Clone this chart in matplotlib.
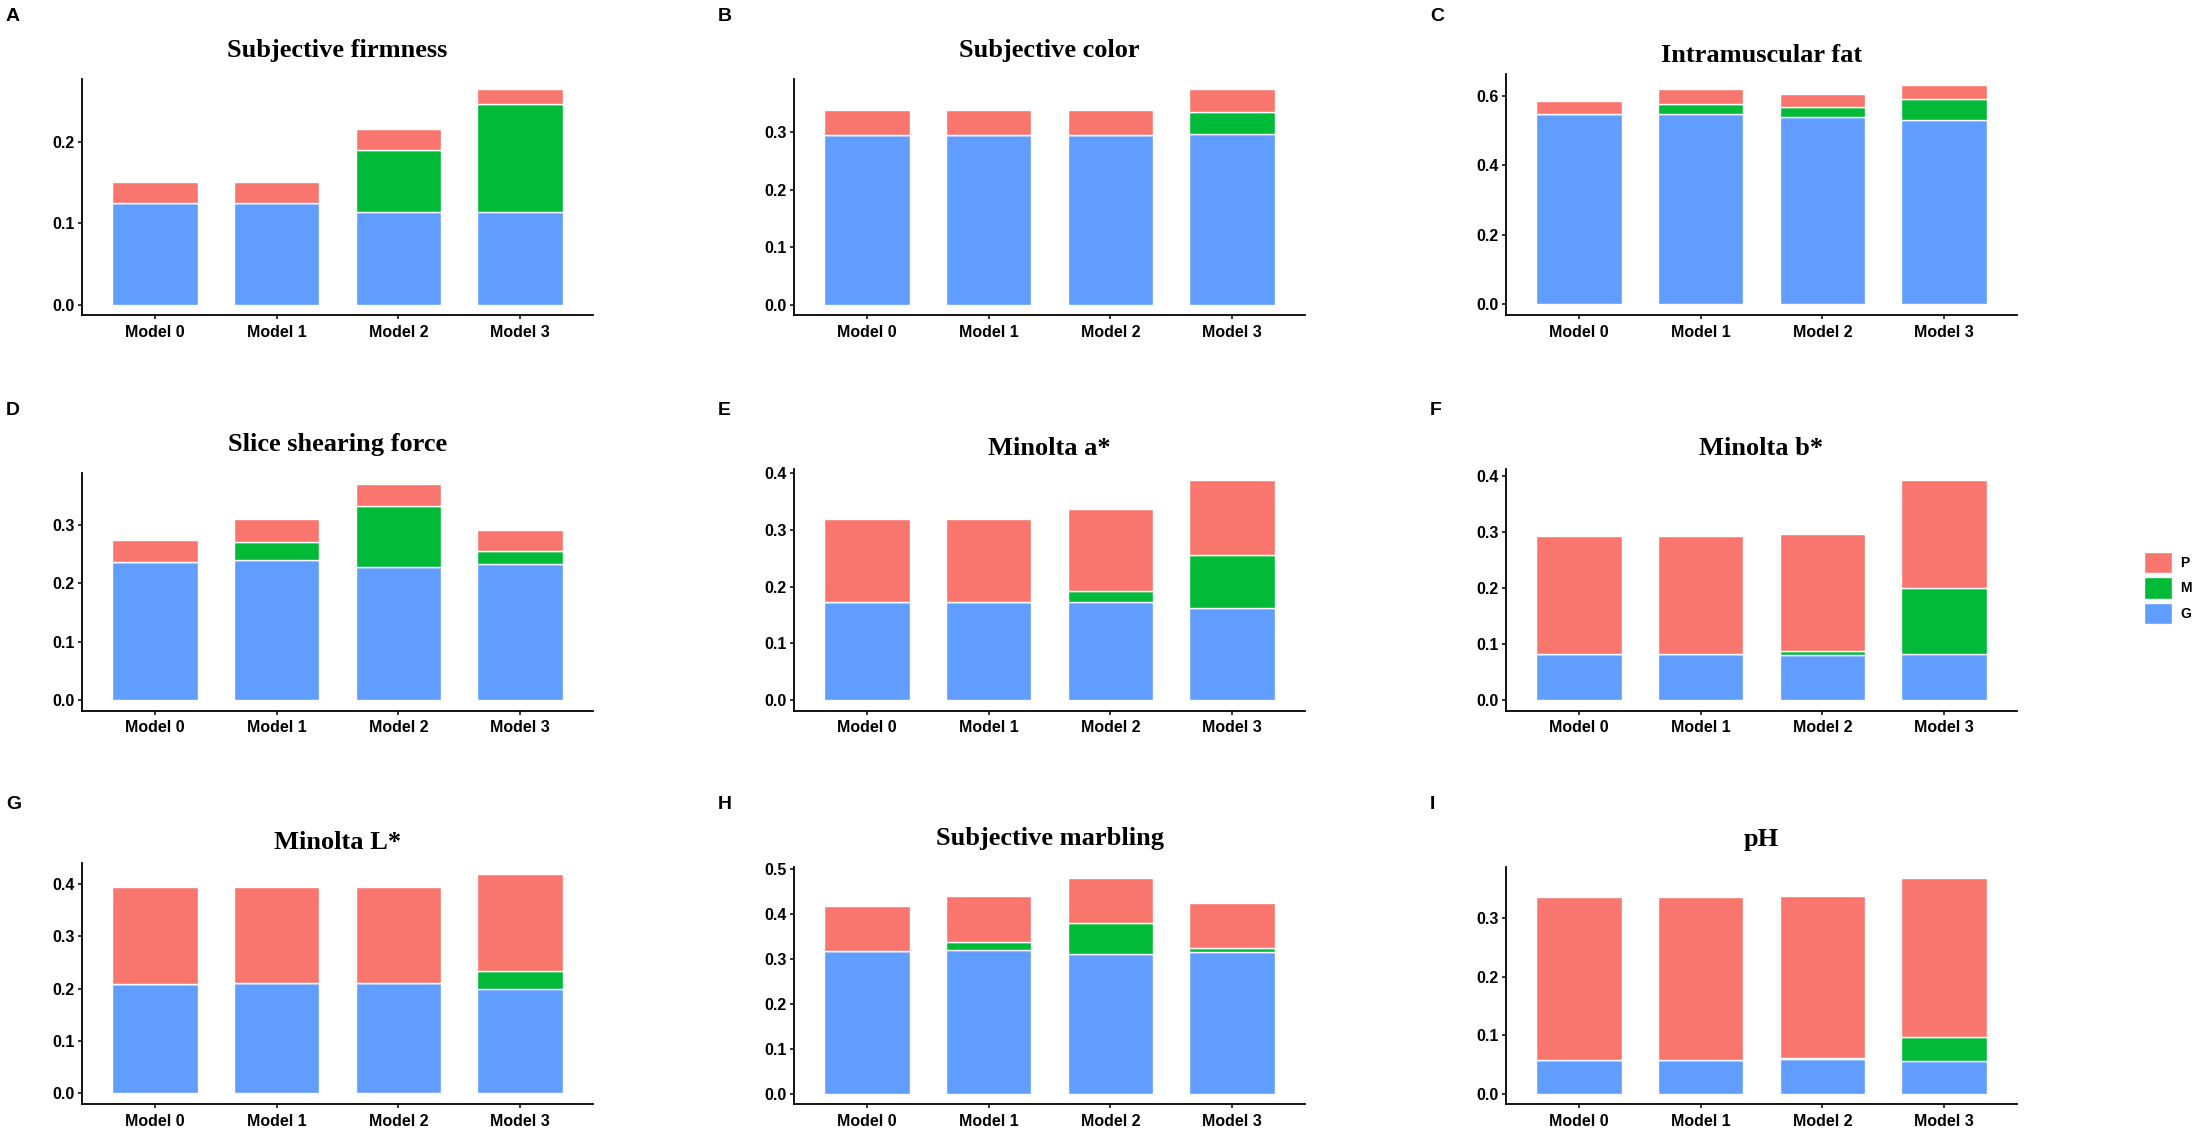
import matplotlib
matplotlib.use("Agg")
import matplotlib.pyplot as plt
from matplotlib.patches import Patch
from matplotlib.ticker import MultipleLocator, FormatStrFormatter

models = ["Model 0", "Model 1", "Model 2", "Model 3"]
letters = ["A", "B", "C", "D", "E", "F", "G", "H", "I"]
titles = ["Subjective firmness", "Subjective color", "Intramuscular fat",
          "Slice shearing force", "Minolta a*", "Minolta b*",
          "Minolta L*", "Subjective marbling", "pH"]

# stacked components per trait: G (bottom), M (middle), P (top)
g_vals = [
    [0.125, 0.125, 0.113, 0.114],
    [0.295, 0.295, 0.295, 0.2965],
    [0.547, 0.547, 0.540, 0.530],
    [0.2356, 0.239, 0.228, 0.2328],
    [0.1735, 0.1735, 0.1735, 0.1617],
    [0.0824, 0.0824, 0.0806, 0.0824],
    [0.2093, 0.210, 0.210, 0.1984],
    [0.318, 0.320, 0.312, 0.3157],
    [0.0578, 0.0578, 0.0584, 0.0561],
]
m_vals = [
    [0.0, 0.0, 0.077, 0.132],
    [0.0, 0.0, 0.0, 0.0395],
    [0.0, 0.031, 0.028, 0.063],
    [0.0, 0.031, 0.1048, 0.0222],
    [0.0, 0.0, 0.0195, 0.0938],
    [0.0, 0.0, 0.0066, 0.1176],
    [0.0, 0.0, 0.0, 0.0357],
    [0.0, 0.0188, 0.0686, 0.0089],
    [0.0, 0.0, 0.0023, 0.0412],
]
p_vals = [
    [0.025, 0.025, 0.026, 0.018],
    [0.0435, 0.0435, 0.0435, 0.039],
    [0.0395, 0.041, 0.037, 0.039],
    [0.0384, 0.040, 0.037, 0.036],
    [0.1465, 0.1465, 0.144, 0.1325],
    [0.2101, 0.2101, 0.2095, 0.1928],
    [0.1843, 0.1843, 0.184, 0.1844],
    [0.1007, 0.1022, 0.100, 0.1008],
    [0.2782, 0.2782, 0.2777, 0.2714],
]

col_p, col_m, col_g = "#F8766D", "#00BA38", "#619CFF"

W, H = 2202, 1132
fig = plt.figure(figsize=(W / 100, H / 100), dpi=100, facecolor="white")

# layout in pixels
lefts = [82, 794, 1506]
ax_w = 511
tops = [78.7, 78.7, 74, 473.3, 469.3, 469.3, 863.3, 867.3, 867.3]
bottoms = [315.3, 710.7, 1104.3]
title_base = [57.3, 57.3, 61.7, 451, 455, 455, 849, 845, 846]
letter_x = [6, 718, 1430]
letter_base = [21, 415, 809]

sans = ["Liberation Sans", "DejaVu Sans"]
serif = ["Liberation Serif", "DejaVu Serif"]

for i in range(9):
    r, c = divmod(i, 3)
    left = lefts[c]
    top = tops[i]
    bot = bottoms[r]
    ax = fig.add_axes([left / W, 1 - bot / H, ax_w / W, (bot - top) / H])

    x = range(len(models))
    g = g_vals[i]
    m = m_vals[i]
    p = p_vals[i]
    gm = [a + b for a, b in zip(g, m)]
    tot = [a + b for a, b in zip(gm, p)]
    ax.bar(x, g, width=0.7, color=col_g, edgecolor="white", linewidth=1)
    ax.bar(x, m, width=0.7, bottom=g, color=col_m, edgecolor="white", linewidth=1)
    ax.bar(x, p, width=0.7, bottom=gm, color=col_p, edgecolor="white", linewidth=1)

    ymax = max(tot)
    ax.set_ylim(-0.05 * ymax, 1.05 * ymax)
    ax.set_xlim(-0.6, len(models) - 0.4)
    ax.set_xticks(list(x))
    ax.set_xticklabels(models)
    ax.yaxis.set_major_locator(MultipleLocator(0.2 if ymax > 0.55 else 0.1))
    ax.yaxis.set_major_formatter(FormatStrFormatter("%.1f"))

    for s in ["top", "right"]:
        ax.spines[s].set_visible(False)
    for s in ["left", "bottom"]:
        ax.spines[s].set_linewidth(1.3)
        ax.spines[s].set_color("black")
    ax.tick_params(axis="both", direction="out", length=3.2, width=1.1,
                   colors="black", labelsize=11.5)
    ax.tick_params(axis="x", pad=3.5)
    ax.tick_params(axis="y", pad=2)
    for lab in ax.get_xticklabels() + ax.get_yticklabels():
        lab.set_fontweight("bold")
        lab.set_family(sans)

    fig.text((left + ax_w / 2) / W, 1 - title_base[i] / H, titles[i],
             ha="center", va="baseline", fontsize=19, fontweight="bold",
             family=serif)
    fig.text(letter_x[c] / W, 1 - letter_base[r] / H, letters[i],
             ha="left", va="baseline", fontsize=14, fontweight="bold",
             family=sans)

handles = [Patch(facecolor=col_p, edgecolor="white", label="P"),
           Patch(facecolor=col_m, edgecolor="white", label="M"),
           Patch(facecolor=col_g, edgecolor="white", label="G")]
fig.legend(handles=handles, loc="center left",
           bbox_to_anchor=(2144 / W, 1 - 588 / H), frameon=False,
           borderpad=0, borderaxespad=0, handlelength=2.0, handleheight=2.0,
           labelspacing=0.3, handletextpad=0.6,
           prop={"family": sans, "weight": "bold", "size": 10})

fig.savefig("out.png", dpi=100, facecolor="white")
